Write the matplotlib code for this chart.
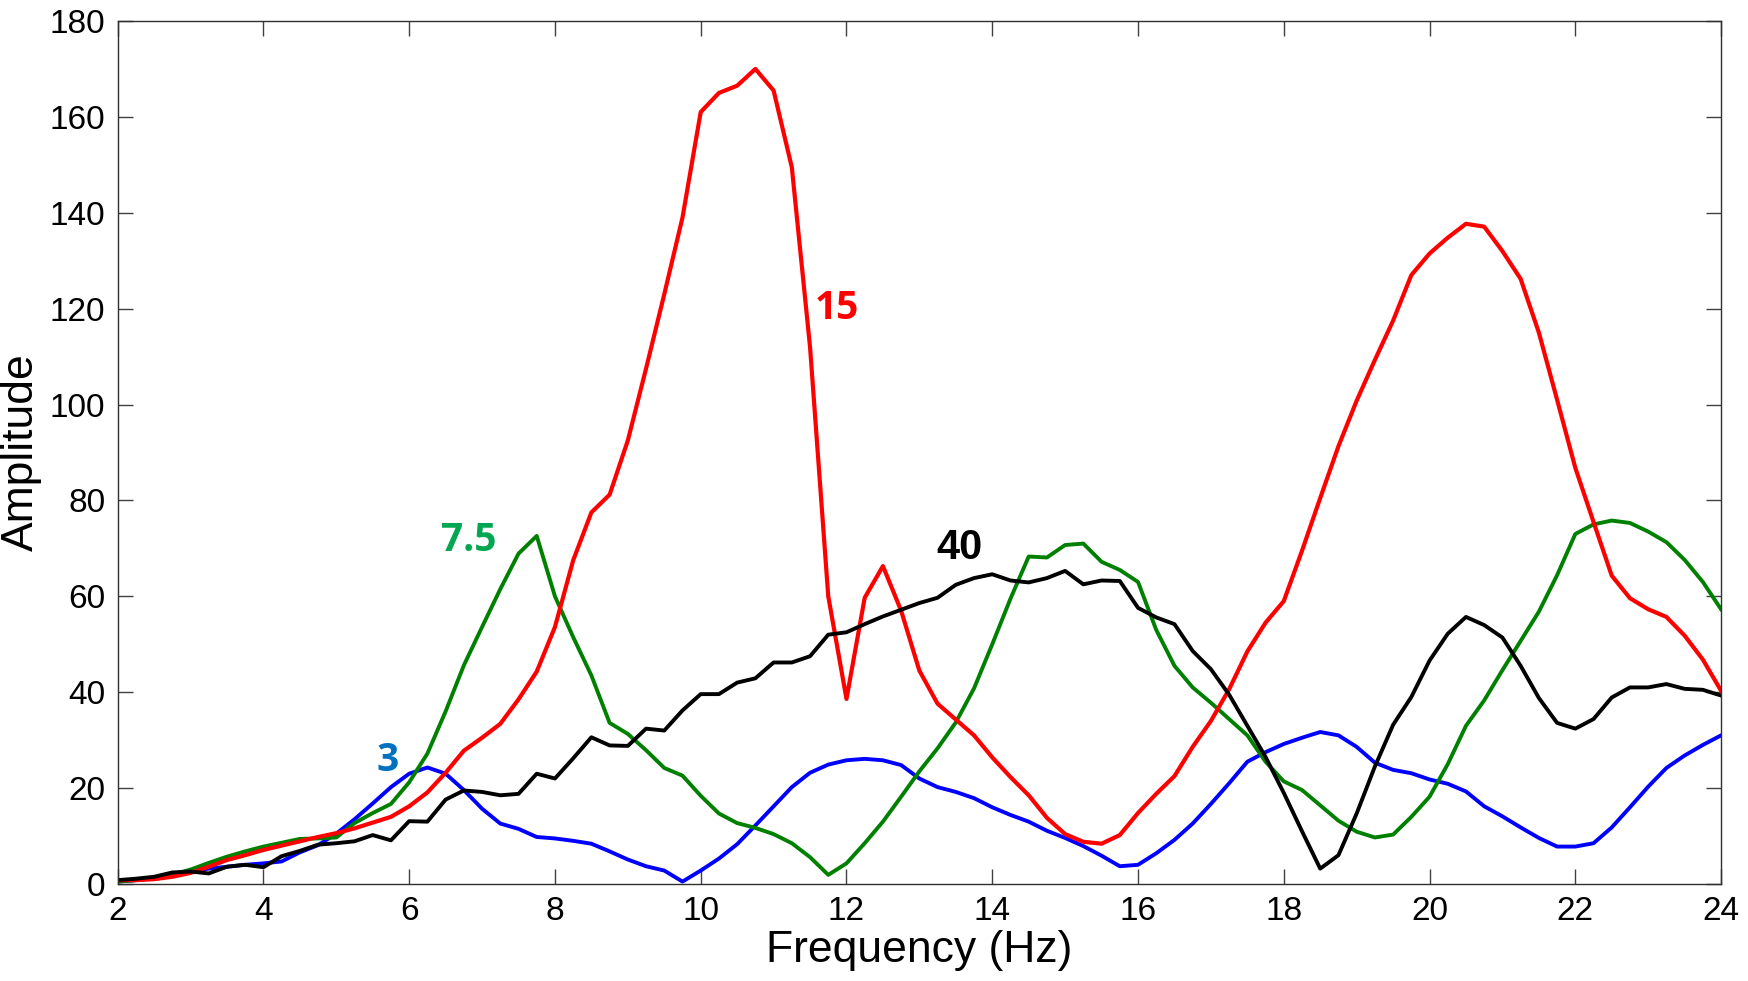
"""
Amplitude spectra for four source settings (3, 7.5, 15 and 40)
"""
import numpy as np
import matplotlib
matplotlib.use('Agg')
import matplotlib.pyplot as plt

plt.rcParams['font.family'] = ['Liberation Sans', 'DejaVu Sans']

# Frequency axis, 0.25 Hz steps from 2 to 24 Hz
freq = np.arange(2.0, 24.0 + 0.001, 0.25)

amp_3 = [
    0.5, 0.8, 1.2, 1.9, 2.7, 3.2, 3.6, 4.0, 4.3, 4.7, 6.6, 8.1,
    10.5, 13.5, 16.8, 20.2, 23.0, 24.3, 23.0, 19.6, 15.7, 12.6, 11.5, 9.8,
    9.5, 9.0, 8.4, 6.8, 5.1, 3.7, 2.8, 0.5, 2.8, 5.3, 8.3, 12.2,
    16.2, 20.2, 23.2, 24.9, 25.8, 26.1, 25.8, 24.8, 22.0, 20.2, 19.2, 17.9,
    16.0, 14.4, 13.0, 11.1, 9.6, 7.9, 5.9, 3.7, 4.0, 6.4, 9.2, 12.6,
    16.7, 21.0, 25.5, 27.5, 29.2, 30.5, 31.7, 31.0, 28.6, 25.3, 23.8, 23.1,
    21.8, 20.9, 19.3, 16.2, 14.1, 11.8, 9.6, 7.8, 7.8, 8.5, 11.8, 16.0,
    20.3, 24.2, 26.8, 29.0, 31.0,
]

amp_7_5 = [
    0.5, 0.8, 1.2, 2.0, 3.0, 4.4, 5.7, 6.8, 7.8, 8.6, 9.4, 9.5,
    9.7, 12.7, 14.8, 16.7, 21.2, 27.2, 36.0, 45.6, 53.6, 61.5, 68.9, 72.6,
    60.0, 51.5, 43.5, 33.6, 31.3, 27.9, 24.2, 22.6, 18.4, 14.7, 12.7, 11.7,
    10.4, 8.5, 5.6, 1.9, 4.3, 8.5, 13.0, 18.2, 23.5, 28.3, 33.7, 40.8,
    50.0, 59.5, 68.3, 68.1, 70.7, 71.0, 67.2, 65.5, 63.0, 53.0, 45.5, 41.0,
    37.8, 34.4, 31.0, 25.5, 21.4, 19.6, 16.4, 13.2, 10.9, 9.7, 10.3, 14.0,
    18.2, 25.0, 33.0, 38.3, 44.6, 50.7, 56.8, 64.4, 73.0, 75.0, 75.8, 75.3,
    73.5, 71.3, 67.6, 63.0, 57.3,
]

amp_15 = [
    0.8, 0.8, 1.0, 1.5, 2.3, 3.6, 5.0, 6.0, 7.1, 8.0, 8.9, 9.8,
    10.6, 11.6, 12.8, 14.0, 16.2, 19.1, 23.2, 27.8, 30.5, 33.4, 38.5, 44.3,
    53.6, 67.5, 77.5, 81.2, 92.5, 107.5, 123.0, 139.0, 161.0, 165.0, 166.5, 170.0,
    165.5, 149.5, 112.0, 60.0, 38.6, 59.7, 66.3, 57.0, 44.5, 37.6, 34.3, 31.0,
    26.4, 22.3, 18.5, 13.8, 10.4, 8.8, 8.4, 10.2, 14.8, 18.8, 22.5, 28.6,
    34.0, 40.6, 48.5, 54.5, 59.0, 69.5, 80.5, 91.3, 100.8, 109.3, 117.5, 127.0,
    131.5, 134.8, 137.7, 137.1, 132.0, 126.2, 115.0, 101.0, 86.8, 75.5, 64.3, 59.6,
    57.3, 55.7, 51.8, 46.8, 40.3,
]

amp_40 = [
    0.8, 1.1, 1.5, 2.4, 2.6, 2.2, 3.6, 4.0, 3.5, 5.8, 6.9, 8.2,
    8.5, 8.9, 10.2, 9.1, 13.1, 13.0, 17.6, 19.5, 19.2, 18.5, 18.8, 23.0,
    22.0, 26.2, 30.6, 28.9, 28.8, 32.4, 32.0, 36.2, 39.6, 39.6, 42.0, 42.9,
    46.2, 46.2, 47.5, 52.0, 52.5, 54.2, 55.8, 57.2, 58.6, 59.7, 62.4, 63.8,
    64.6, 63.3, 62.9, 63.8, 65.3, 62.5, 63.3, 63.2, 57.6, 55.6, 54.2, 48.6,
    44.8, 39.5, 33.0, 26.5, 19.0, 11.0, 3.2, 6.0, 14.7, 24.5, 33.2, 39.0,
    46.6, 52.2, 55.7, 54.0, 51.4, 45.5, 38.8, 33.6, 32.4, 34.4, 38.9, 41.0,
    41.0, 41.7, 40.7, 40.5, 39.3,
]

# curve label text, anchor (Hz, amplitude) and colour
labels = ['3', '7.5', '15', '40']
label_x = [5.70, 6.82, 11.87, 13.55]
label_y = [25.8, 71.7, 120.1, 70.0]
label_colors = ['#0070C0', '#00A650', '#FF0000', '#000000']


def main():
    fig = plt.figure(figsize=(17.48, 9.81), dpi=100)
    ax = fig.add_axes([0.0673, 0.0989, 0.9173, 0.8797])

    ax.plot(freq, amp_3, color='#0000FF', linewidth=2.8)
    ax.plot(freq, amp_7_5, color='#008000', linewidth=2.8)
    ax.plot(freq, amp_15, color='#FF0000', linewidth=3.0)
    ax.plot(freq, amp_40, color='#000000', linewidth=2.8)

    ax.set_xlim(2, 24)
    ax.set_ylim(0, 180)
    ax.set_xticks(np.arange(2, 25, 2))
    ax.set_yticks(np.arange(0, 181, 20))

    ax.tick_params(direction='in', length=11, width=1.0, color='#404040',
                   top=True, right=True, labelsize=24, pad=9)
    for spine in ax.spines.values():
        spine.set_linewidth(1.0)
        spine.set_color('#303030')

    ax.set_xlabel('Frequency (Hz)', fontsize=32, labelpad=2)
    ax.set_ylabel('Amplitude', fontsize=32)
    ax.yaxis.set_label_coords(-0.047, 0.5)

    # curve labels
    for txt, x, y, c in zip(labels, label_x, label_y, label_colors):
        if txt == '40':
            ax.text(x, y, txt, color=c, fontsize=30, fontweight='bold',
                    ha='center', va='center', family=['Liberation Sans'])
        else:
            ax.text(x, y, txt, color=c, fontsize=28, fontweight='bold',
                    ha='center', va='center', family=['Open Sans', 'DejaVu Sans'])

    fig.savefig('out.png', dpi=100)
    plt.close(fig)


if __name__ == '__main__':
    main()
